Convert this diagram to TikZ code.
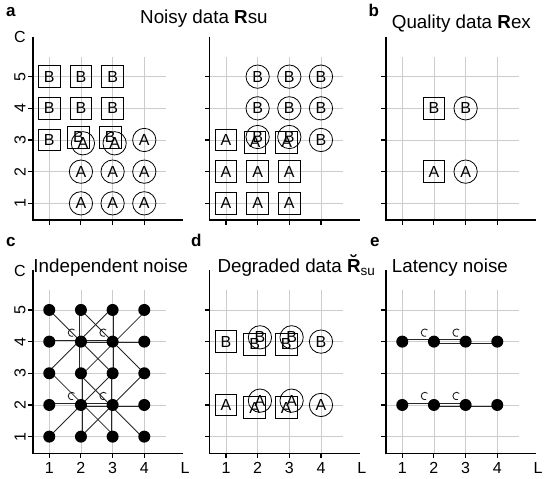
\documentclass[tikz,border=0pt]{standalone}
\usepackage{fontspec}
\setmainfont{Liberation Sans}
\newcommand\fsz[1]{\fontsize{#1}{#1}\selectfont}
\newcommand\brR{\makebox[0pt][l]{\makebox[0.722em]{\raisebox{0.18em}{\bfseries ˘}}}\textbf{R}}
\tikzset{
 gridln/.style={draw=black!20, line width=0.8pt},
 axln/.style={draw=black, line width=1.1pt},
 sq/.style={draw, line width=0.8pt, minimum size=21.7pt, inner sep=0pt, font=\fsz{16}},
 cir/.style={draw, circle, line width=0.8pt, minimum size=23.3pt, inner sep=0pt, font=\fsz{16}},
 dotn/.style={fill, circle, minimum size=12pt, inner sep=0pt},
 lbl/.style={font=\fsz{16}, inner sep=0pt},
 ttl/.style={font=\fsz{18.8}, inner sep=0pt, anchor=base west},
 plbl/.style={font=\fsz{17}\bfseries, inner sep=0pt, anchor=base west},
 link/.style={draw=black!85, line width=0.85pt},
 curl/.style={draw=black!90, line width=0.85pt},
}
\newcommand\panelframe{%
  \foreach \i in {1,...,4} \draw[gridln] (\i,0.474) -- (\i,5.63);
  \foreach \j in {1,...,5} \draw[gridln] (0.486,\j) -- (4.7,\j);
  \draw[axln] (0.486,6.26) -- (0.486,0.474) -- (5.23,0.474);
  \foreach \j in {1,...,5} \draw[axln] (0.486,\j) -- (0.328,\j);
  \foreach \i in {1,...,4} \draw[axln] (\i,0.474) -- (\i,0.316);
}
\begin{document}
\begin{tikzpicture}[x=1pt,y=-1pt]
\fill[white] (0,0) rectangle (550,479);
\useasboundingbox (0,0) rectangle (550,479);

% panel letters and titles
\node[plbl] (la) at (6,16.7) {a};
\node[plbl] (lb) at (368.3,16.7) {b};
\node[plbl] (lc) at (6,246.7) {c};
\node[plbl] (ld) at (191,246.7) {d};
\node[plbl] (le) at (370,246.7) {e};
\node[ttl] (ta) at (140,23.5) {Noisy data \textbf{R}su};
\node[ttl] (tb) at (391.7,28.3) {Quality data \textbf{R}ex};
\node[ttl] (tc) at (33.3,272.3) {Independent noise};
\node[ttl] (td) at (217.3,272.3) {Degraded data \brR\raisebox{-3pt}{\fsz{13.5}su}};
\node[ttl] (te) at (391.7,272) {Latency noise};

% ---------- panel a (left) ----------
\begin{scope}[shift={(17.6,235)}, x=31.67pt, y=31.67pt]
 \panelframe
 \foreach \j in {1,...,5} \node[lbl, rotate=90] (aY\j) at (0.076,\j) {\j};
 \node[lbl] (aC) at (0.076,6.24) {C};
 \foreach \x/\y in {1/5,2/5,3/5,1/4,2/4,3/4,1/3} \node[sq] (aS\x\y) at (\x,\y) {B};
 \node[sq] (aS23) at ([shift={(-2.5pt,2.5pt)}]2,3) {B};
 \node[sq] (aS33) at ([shift={(-2.5pt,2.5pt)}]3,3) {B};
 \foreach \x/\y in {4/3,2/2,3/2,4/2,2/1,3/1,4/1} \node[cir] (aO\x\y) at (\x,\y) {A};
 \node[cir] (aO23) at ([shift={(2pt,-3.3pt)}]2,3) {A};
 \node[cir] (aO33) at ([shift={(2pt,-3.3pt)}]3,3) {A};
\end{scope}

% ---------- panel a (right) ----------
\begin{scope}[shift={(194.3,235)}, x=31.67pt, y=31.67pt]
 \panelframe
 \foreach \x/\y in {1/1,2/1,3/1,1/2,2/2,3/2,1/3} \node[sq] (mS\x\y) at (\x,\y) {A};
 \node[sq] (mS23) at ([shift={(-2.7pt,-2.5pt)}]2,3) {A};
 \node[sq] (mS33) at ([shift={(-2.7pt,-2.5pt)}]3,3) {A};
 \foreach \x/\y in {2/5,3/5,4/5,2/4,3/4,4/4,4/3} \node[cir] (mO\x\y) at (\x,\y) {B};
 \node[cir] (mO23) at ([shift={(0pt,3pt)}]2,3) {B};
 \node[cir] (mO33) at ([shift={(0pt,3pt)}]3,3) {B};
\end{scope}

% ---------- panel b ----------
\begin{scope}[shift={(370.6,235)}, x=31.67pt, y=31.67pt]
 \panelframe
 \node[sq] (bS24) at (2,4) {B};
 \node[cir] (bO34) at (3,4) {B};
 \node[sq] (bS22) at (2,2) {A};
 \node[cir] (bO32) at (3,2) {A};
\end{scope}

% ---------- panel c ----------
\begin{scope}[shift={(17.6,468.3)}, x=31.67pt, y=31.67pt]
 \panelframe
 \foreach \j in {1,...,5} \node[lbl, rotate=90] (cY\j) at (0.076,\j) {\j};
 \node[lbl] (cC) at (0.076,6.24) {C};
 \foreach \i in {1,...,4} \node[lbl] (cX\i) at (\i,0) {\i};
 \node[lbl] (cL) at (5.29,0) {L};
 \foreach \x in {1,...,4} \foreach \y in {1,...,5} \coordinate (cp\x\y) at (\x,\y);
 \foreach \cx/\cy/\sx/\sy in {2/4/-1.2/1.2, 3/4/1.2/-1.2, 2/2/1.2/1.2, 3/2/-1.2/-1.2} {
   \foreach \dx/\dy in {-1/-1,-1/0,-1/1,0/-1,0/1,1/-1,1/0,1/1} {
     \pgfmathtruncatemacro\nbx{\cx+\dx}
     \pgfmathtruncatemacro\nby{\cy+\dy}
     \draw[link] ([shift={(\sx pt,\sy pt)}]cp\cx\cy) -- ([shift={(\sx pt,\sy pt)}]cp\nbx\nby);
   }
 }
 \foreach \x in {1,...,4} \foreach \y in {1,...,5} \node[dotn] (c\x\y) at (cp\x\y) {};
 \foreach \n in {c24,c34,c22,c32} \draw[curl] ([shift={(-6.4pt,11.6pt)}]\n.center) arc[start angle=45,end angle=290,radius=3.7pt];
\end{scope}

% ---------- panel d ----------
\begin{scope}[shift={(194.3,468.3)}, x=31.67pt, y=31.67pt]
 \panelframe
 \foreach \i in {1,...,4} \node[lbl] (dX\i) at (\i,0) {\i};
 \node[lbl] (dL) at (5.29,0) {L};
 \foreach \y/\t in {4/B,2/A} {
   \node[sq] (dS1\y) at (1,\y) {\t};
   \node[sq] (dS2\y) at ([shift={(-3pt,-2.7pt)}]2,\y) {\t};
   \node[sq] (dS3\y) at ([shift={(-3pt,-2.7pt)}]3,\y) {\t};
   \node[cir] (dO2\y) at ([shift={(2.3pt,4.3pt)}]2,\y) {\t};
   \node[cir] (dO3\y) at ([shift={(2.3pt,4.3pt)}]3,\y) {\t};
   \node[cir] (dO4\y) at (4,\y) {\t};
 }
\end{scope}

% ---------- panel e ----------
\begin{scope}[shift={(370.6,468.3)}, x=31.67pt, y=31.67pt]
 \panelframe
 \foreach \i in {1,...,4} \node[lbl] (eX\i) at (\i,0) {\i};
 \node[lbl] (eL) at (5.29,0) {L};
 \foreach \y in {4,2} {
   \foreach \x in {1,...,4} \coordinate (ep\x\y) at (\x,\y);
   \draw[link] ([shift={(0pt,1.7pt)}]ep1\y) -- ([shift={(0pt,1.7pt)}]ep2\y) -- ([shift={(0pt,1.7pt)}]ep3\y);
   \draw[link] ([shift={(0pt,-1.7pt)}]ep2\y) -- ([shift={(0pt,-1.7pt)}]ep3\y) -- ([shift={(0pt,-1.7pt)}]ep4\y);
   \foreach \x in {1,...,4} \node[dotn] (e\x\y) at (ep\x\y) {};
   \foreach \x in {2,3} \draw[curl] ([shift={(-6.4pt,11.6pt)}]e\x\y.center) arc[start angle=45,end angle=290,radius=3.7pt];
 }
\end{scope}
\end{tikzpicture}
\end{document}
